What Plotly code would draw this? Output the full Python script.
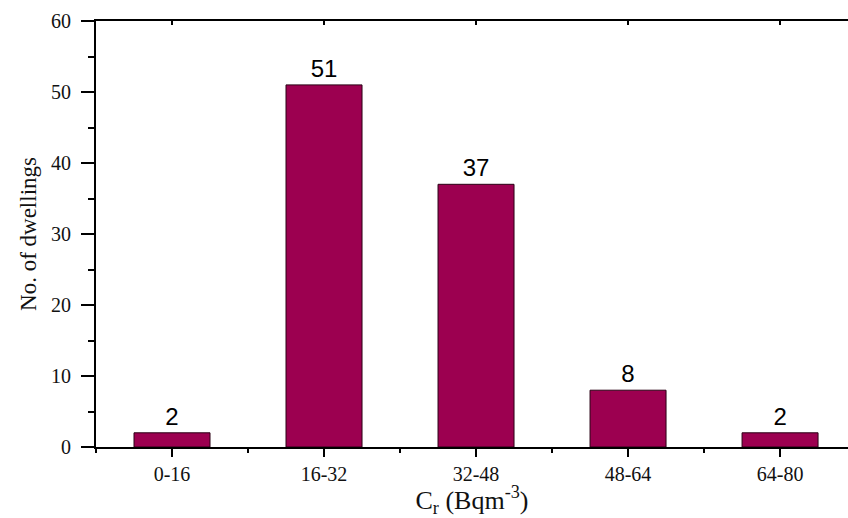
import plotly.graph_objects as go

categories = ["0-16", "16-32", "32-48", "48-64", "64-80"]
dwellings = [2, 51, 37, 8, 2]
y_ticks = [0, 10, 20, 30, 40, 50, 60]

xpos = list(range(len(categories)))
bar_color = "#9C0050"
serif = "Liberation Serif, Times New Roman, serif"
sans = "Liberation Sans, Arial, sans-serif"

fig = go.Figure()
fig.add_trace(go.Bar(
    x=xpos, y=dwellings, width=0.5,
    marker=dict(color=bar_color, line=dict(color="#2a0015", width=1)),
    text=[str(v) for v in dwellings], textposition="outside",
    textfont=dict(family=sans, size=24, color="black"),
    cliponaxis=False, showlegend=False,
))
# invisible trace to draw the top axis with inward ticks
fig.add_trace(go.Scatter(x=xpos, y=dwellings, xaxis="x2", mode="markers",
                         marker=dict(opacity=0), showlegend=False, hoverinfo="skip"))

fig.update_layout(
    width=848, height=518,
    margin=dict(l=96, r=0, t=21, b=71),
    plot_bgcolor="white", paper_bgcolor="white",
    bargap=0.5,
    xaxis=dict(
        range=[-0.5, 4.447], tickvals=xpos, ticktext=categories, automargin=False,
        ticks="outside", ticklen=8, tickwidth=2, tickcolor="black",
        showline=True, linecolor="black", linewidth=2, showgrid=False, zeroline=False,
        minor=dict(ticks="outside", ticklen=4, tickwidth=2, tickcolor="black", tick0=0.5, dtick=1, showgrid=False),
        tickfont=dict(family=serif, size=20, color="#111"),
        title=dict(text="C<sub>r</sub> (Bqm<sup>-3</sup>)", font=dict(family=serif, size=26, color="#111"), standoff=6),
    ),
    xaxis2=dict(
        overlaying="x", side="top", matches="x", range=[-0.5, 4.447], tickvals=xpos, automargin=False,
        showticklabels=False, ticks="inside", ticklen=4, tickwidth=2, tickcolor="black",
        showline=True, linecolor="black", linewidth=2, showgrid=False, zeroline=False,
    ),
    yaxis=dict(
        range=[0, 60], tickvals=y_ticks, automargin=False,
        ticks="outside", ticklen=13, tickwidth=2, tickcolor="black",
        showline=True, linecolor="black", linewidth=2, showgrid=False, zeroline=False,
        minor=dict(ticks="outside", ticklen=6, tickwidth=2, tickcolor="black", dtick=5, showgrid=False),
        tickfont=dict(family=serif, size=20, color="#111"),
        ticklabelstandoff=6,
        title=dict(text="No. of dwellings", font=dict(family=serif, size=23, color="#111"), standoff=8),
    ),
)

fig.write_html("out.html", config={"displayModeBar": False},
               post_script="document.body.style.margin='0';document.body.style.overflow='hidden';")
